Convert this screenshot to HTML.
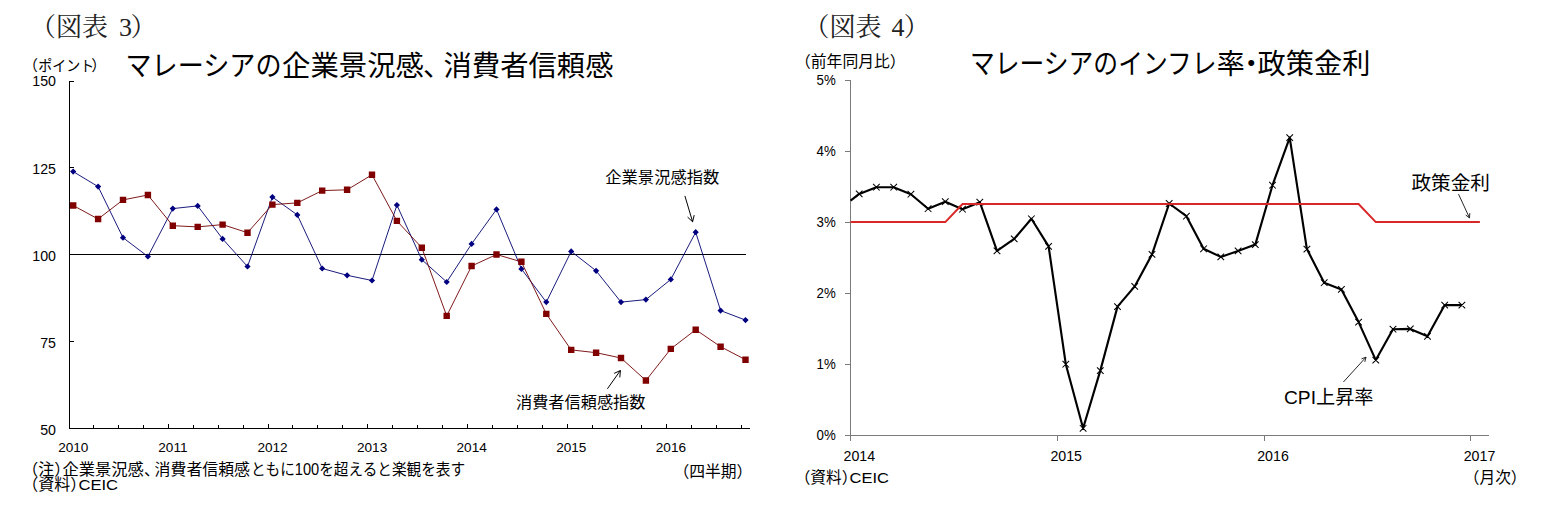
<!DOCTYPE html>
<html lang="ja"><head><meta charset="utf-8"><title>図表3・図表4</title>
<style>html,body{margin:0;padding:0;background:#fff}body{width:1558px;height:531px;overflow:hidden;font-family:"Liberation Sans",sans-serif}svg{display:block}text{font-family:"Liberation Sans","Noto Sans CJK JP",sans-serif;font-size:14.2px;fill:#000}</style>
</head><body>
<svg width="1558" height="531" viewBox="0 0 1558 531">
<title>図表3 マレーシアの企業景況感、消費者信頼感 / 図表4 マレーシアのインフレ率・政策金利</title>
<desc>（図表 3）マレーシアの企業景況感、消費者信頼感（ポイント）企業景況感指数 消費者信頼感指数（四半期）（注）企業景況感、消費者信頼感ともに100を超えると楽観を表す（資料）CEIC ／（図表 4）マレーシアのインフレ率・政策金利（前年同月比）政策金利 CPI上昇率（月次）（資料）CEIC</desc>
<rect width="1558" height="531" fill="#fff"/>
<g stroke="#000" stroke-width="1" fill="none" shape-rendering="crispEdges">
<path d="M69.5 81V429"/>
<path d="M69 428.5H749.5"/>
<path d="M69 254.5H746"/>
<path d="M69 81.5H74"/>
<path d="M69 167.5H74"/>
<path d="M69 254.5H74"/>
<path d="M69 341.5H74"/>
<path d="M93.5 428V425"/>
<path d="M118.5 428V425"/>
<path d="M143.5 428V425"/>
<path d="M168.5 428V424"/>
<path d="M193.5 428V425"/>
<path d="M218.5 428V425"/>
<path d="M243.5 428V425"/>
<path d="M268.5 428V424"/>
<path d="M292.5 428V425"/>
<path d="M317.5 428V425"/>
<path d="M342.5 428V425"/>
<path d="M367.5 428V424"/>
<path d="M392.5 428V425"/>
<path d="M417.5 428V425"/>
<path d="M442.5 428V425"/>
<path d="M467.5 428V424"/>
<path d="M492.5 428V425"/>
<path d="M517.5 428V425"/>
<path d="M542.5 428V425"/>
<path d="M567.5 428V424"/>
<path d="M592.5 428V425"/>
<path d="M617.5 428V425"/>
<path d="M641.5 428V425"/>
<path d="M666.5 428V424"/>
<path d="M691.5 428V425"/>
<path d="M716.5 428V425"/>
<path d="M741.5 428V425"/>
</g>
<path d="M73.2 171.6 L98.1 186.6 L123.0 237.7 L147.9 256.5 L172.8 208.6 L197.7 205.9 L222.6 238.9 L247.5 266.5 L272.4 197.1 L297.3 214.9 L322.2 268.5 L347.1 275.3 L372.0 280.5 L396.9 205.1 L421.8 259.7 L446.7 282.0 L471.6 243.9 L496.5 209.4 L521.4 268.9 L546.3 302.1 L571.2 251.4 L596.1 270.8 L621.0 302.1 L645.9 299.6 L670.8 279.4 L695.7 232.2 L720.6 310.6 L745.5 320.1" fill="none" stroke="#00006e" stroke-width="0.9"/>
<path d="M73.2 205.5 L98.1 219.0 L123.0 199.9 L147.9 195.0 L172.8 225.7 L197.7 226.9 L222.6 224.6 L247.5 232.7 L272.4 204.6 L297.3 202.9 L322.2 190.6 L347.1 189.8 L372.0 174.8 L396.9 220.9 L421.8 247.7 L446.7 315.9 L471.6 266.0 L496.5 254.5 L521.4 261.8 L546.3 313.9 L571.2 349.9 L596.1 352.7 L621.0 358.0 L645.9 380.5 L670.8 348.9 L695.7 329.7 L720.6 346.7 L745.5 359.7" fill="none" stroke="#700000" stroke-width="0.9"/>
<path d="M73.2 168.5l3.1 3.1l-3.1 3.1l-3.1 -3.1zM98.1 183.5l3.1 3.1l-3.1 3.1l-3.1 -3.1zM123.0 234.6l3.1 3.1l-3.1 3.1l-3.1 -3.1zM147.9 253.4l3.1 3.1l-3.1 3.1l-3.1 -3.1zM172.8 205.5l3.1 3.1l-3.1 3.1l-3.1 -3.1zM197.7 202.8l3.1 3.1l-3.1 3.1l-3.1 -3.1zM222.6 235.8l3.1 3.1l-3.1 3.1l-3.1 -3.1zM247.5 263.4l3.1 3.1l-3.1 3.1l-3.1 -3.1zM272.4 194.0l3.1 3.1l-3.1 3.1l-3.1 -3.1zM297.3 211.8l3.1 3.1l-3.1 3.1l-3.1 -3.1zM322.2 265.4l3.1 3.1l-3.1 3.1l-3.1 -3.1zM347.1 272.2l3.1 3.1l-3.1 3.1l-3.1 -3.1zM372.0 277.4l3.1 3.1l-3.1 3.1l-3.1 -3.1zM396.9 202.0l3.1 3.1l-3.1 3.1l-3.1 -3.1zM421.8 256.6l3.1 3.1l-3.1 3.1l-3.1 -3.1zM446.7 278.9l3.1 3.1l-3.1 3.1l-3.1 -3.1zM471.6 240.8l3.1 3.1l-3.1 3.1l-3.1 -3.1zM496.5 206.3l3.1 3.1l-3.1 3.1l-3.1 -3.1zM521.4 265.8l3.1 3.1l-3.1 3.1l-3.1 -3.1zM546.3 299.0l3.1 3.1l-3.1 3.1l-3.1 -3.1zM571.2 248.3l3.1 3.1l-3.1 3.1l-3.1 -3.1zM596.1 267.7l3.1 3.1l-3.1 3.1l-3.1 -3.1zM621.0 299.0l3.1 3.1l-3.1 3.1l-3.1 -3.1zM645.9 296.5l3.1 3.1l-3.1 3.1l-3.1 -3.1zM670.8 276.3l3.1 3.1l-3.1 3.1l-3.1 -3.1zM695.7 229.1l3.1 3.1l-3.1 3.1l-3.1 -3.1zM720.6 307.5l3.1 3.1l-3.1 3.1l-3.1 -3.1zM745.5 317.0l3.1 3.1l-3.1 3.1l-3.1 -3.1z" fill="#000080"/>
<path d="M70.0 202.3h6.4v6.4h-6.4zM94.9 215.8h6.4v6.4h-6.4zM119.8 196.7h6.4v6.4h-6.4zM144.7 191.8h6.4v6.4h-6.4zM169.6 222.5h6.4v6.4h-6.4zM194.5 223.7h6.4v6.4h-6.4zM219.4 221.4h6.4v6.4h-6.4zM244.3 229.5h6.4v6.4h-6.4zM269.2 201.4h6.4v6.4h-6.4zM294.1 199.7h6.4v6.4h-6.4zM319.0 187.4h6.4v6.4h-6.4zM343.9 186.6h6.4v6.4h-6.4zM368.8 171.6h6.4v6.4h-6.4zM393.7 217.7h6.4v6.4h-6.4zM418.6 244.5h6.4v6.4h-6.4zM443.5 312.7h6.4v6.4h-6.4zM468.4 262.8h6.4v6.4h-6.4zM493.3 251.3h6.4v6.4h-6.4zM518.2 258.6h6.4v6.4h-6.4zM543.1 310.7h6.4v6.4h-6.4zM568.0 346.7h6.4v6.4h-6.4zM592.9 349.5h6.4v6.4h-6.4zM617.8 354.8h6.4v6.4h-6.4zM642.7 377.3h6.4v6.4h-6.4zM667.6 345.7h6.4v6.4h-6.4zM692.5 326.5h6.4v6.4h-6.4zM717.4 343.5h6.4v6.4h-6.4zM742.3 356.5h6.4v6.4h-6.4z" fill="#800000"/>
<path d="M684.9 195.9L692.6 221.8M692.6 221.8L694.2 215.1M692.6 221.8L687.6 217.1" fill="none" stroke="#000" stroke-width="1"/>
<path d="M607.4 388.8L620.4 370.5M620.4 370.5L614.1 373.4M620.4 370.5L619.8 377.4" fill="none" stroke="#000" stroke-width="1"/>
<g stroke="#7a7a7a" stroke-width="1" fill="none" shape-rendering="crispEdges">
<path d="M850.5 80V436"/>
<path d="M850 435.5H1488.5"/>
<path d="M845 435.5H851"/>
<path d="M845 364.5H851"/>
<path d="M845 293.5H851"/>
<path d="M845 222.5H851"/>
<path d="M845 151.5H851"/>
<path d="M845 80.5H851"/>
<path d="M850.5 435V441"/>
<path d="M1057.5 435V441"/>
<path d="M1264.5 435V441"/>
<path d="M1470.5 435V441"/>
</g>
<path d="M850.6 200.7 L859.2 193.9 L876.4 187.2 L893.6 187.2 L910.9 194.2 L928.1 208.7 L945.3 201.7 L962.5 209.2 L979.8 202.2 L997.0 250.9 L1014.2 238.9 L1031.4 218.8 L1048.6 246.4 L1065.8 364.2 L1083.1 428.3 L1100.3 370.6 L1117.5 306.6 L1134.7 286.4 L1152.0 254.4 L1169.2 203.5 L1186.4 216.2 L1203.6 248.8 L1220.8 256.9 L1238.0 250.9 L1255.3 244.6 L1272.5 185.2 L1289.7 137.6 L1306.9 249.1 L1324.2 282.7 L1341.4 289.4 L1358.6 322.1 L1375.8 360.1 L1393.0 329.2 L1410.2 328.9 L1427.5 336.3 L1444.7 305.1 L1461.9 305.1" fill="none" stroke="#000" stroke-width="2.15" stroke-linejoin="round"/>
<path d="M855.9 190.6l6.6 6.6M855.9 197.2l6.6 -6.6M873.1 183.9l6.6 6.6M873.1 190.5l6.6 -6.6M890.4 183.9l6.6 6.6M890.4 190.5l6.6 -6.6M907.6 190.9l6.6 6.6M907.6 197.5l6.6 -6.6M924.8 205.4l6.6 6.6M924.8 212.0l6.6 -6.6M942.0 198.4l6.6 6.6M942.0 205.0l6.6 -6.6M959.2 205.9l6.6 6.6M959.2 212.5l6.6 -6.6M976.5 198.9l6.6 6.6M976.5 205.5l6.6 -6.6M993.7 247.6l6.6 6.6M993.7 254.2l6.6 -6.6M1010.9 235.6l6.6 6.6M1010.9 242.2l6.6 -6.6M1028.1 215.5l6.6 6.6M1028.1 222.1l6.6 -6.6M1045.3 243.1l6.6 6.6M1045.3 249.7l6.6 -6.6M1062.5 360.9l6.6 6.6M1062.5 367.5l6.6 -6.6M1079.8 425.0l6.6 6.6M1079.8 431.6l6.6 -6.6M1097.0 367.3l6.6 6.6M1097.0 373.9l6.6 -6.6M1114.2 303.3l6.6 6.6M1114.2 309.9l6.6 -6.6M1131.4 283.1l6.6 6.6M1131.4 289.7l6.6 -6.6M1148.7 251.1l6.6 6.6M1148.7 257.7l6.6 -6.6M1165.9 200.2l6.6 6.6M1165.9 206.8l6.6 -6.6M1183.1 212.9l6.6 6.6M1183.1 219.5l6.6 -6.6M1200.3 245.5l6.6 6.6M1200.3 252.1l6.6 -6.6M1217.5 253.6l6.6 6.6M1217.5 260.2l6.6 -6.6M1234.8 247.6l6.6 6.6M1234.8 254.2l6.6 -6.6M1252.0 241.3l6.6 6.6M1252.0 247.9l6.6 -6.6M1269.2 181.9l6.6 6.6M1269.2 188.5l6.6 -6.6M1286.4 134.3l6.6 6.6M1286.4 140.9l6.6 -6.6M1303.6 245.8l6.6 6.6M1303.6 252.4l6.6 -6.6M1320.9 279.4l6.6 6.6M1320.9 286.0l6.6 -6.6M1338.1 286.1l6.6 6.6M1338.1 292.7l6.6 -6.6M1355.3 318.8l6.6 6.6M1355.3 325.4l6.6 -6.6M1372.5 356.8l6.6 6.6M1372.5 363.4l6.6 -6.6M1389.7 325.9l6.6 6.6M1389.7 332.5l6.6 -6.6M1407.0 325.6l6.6 6.6M1407.0 332.2l6.6 -6.6M1424.2 333.0l6.6 6.6M1424.2 339.6l6.6 -6.6M1441.4 301.8l6.6 6.6M1441.4 308.4l6.6 -6.6M1458.6 301.8l6.6 6.6M1458.6 308.4l6.6 -6.6" fill="none" stroke="#000" stroke-width="1.05"/>
<path d="M850.6 222.1H945.3L962.5 204.1H1358.6L1375.8 222.1H1479.9" fill="none" stroke="#d92626" stroke-width="2"/>
<path d="M1458.5 194.1L1469.5 217.9M1469.5 217.9L1469.8 213.1M1469.5 217.9L1465.7 215.0" fill="none" stroke="#111" stroke-width="0.9"/>
<path d="M1343.4 382.0L1366.0 357.2M1366.0 357.2L1361.5 358.8M1366.0 357.2L1364.8 361.9" fill="none" stroke="#111" stroke-width="0.9"/>
<text y="35.9" style="font-family:'Liberation Serif','Noto Serif CJK SC','Noto Sans CJK JP',serif;font-size:26px;fill:#222"><tspan x="30">（図表</tspan><tspan x="119">3</tspan><tspan x="130.4">）</tspan></text>
<text x="23" y="71" style="font-size:15px">（</text>
<text x="38.3" y="71" style="font-size:15px" textLength="56" lengthAdjust="spacingAndGlyphs">ポイント</text>
<text x="91.3" y="71" style="font-size:15px">）</text>
<text x="125.5" y="76.3" style="font-size:28px" textLength="156" lengthAdjust="spacingAndGlyphs">マレーシアの</text>
<text x="282" y="76.3" style="font-size:28px" textLength="142" lengthAdjust="spacingAndGlyphs">企業景況感</text>
<text x="423" y="76.3" style="font-size:28px">、</text>
<text x="443.5" y="76.3" style="font-size:28px" textLength="170" lengthAdjust="spacingAndGlyphs">消費者信頼感</text>
<text x="56" y="86.3" text-anchor="end">150</text>
<text x="56" y="173.5" text-anchor="end">125</text>
<text x="56" y="260.5" text-anchor="end">100</text>
<text x="56" y="347.6" text-anchor="end">75</text>
<text x="56" y="434.6" text-anchor="end">50</text>
<text x="73.3" y="451.9" text-anchor="middle" style="font-size:13.6px">2010</text>
<text x="172.9" y="451.9" text-anchor="middle" style="font-size:13.6px">2011</text>
<text x="272.5" y="451.9" text-anchor="middle" style="font-size:13.6px">2012</text>
<text x="372.1" y="451.9" text-anchor="middle" style="font-size:13.6px">2013</text>
<text x="471.7" y="451.9" text-anchor="middle" style="font-size:13.6px">2014</text>
<text x="571.3" y="451.9" text-anchor="middle" style="font-size:13.6px">2015</text>
<text x="670.9" y="451.9" text-anchor="middle" style="font-size:13.6px">2016</text>
<text x="605.3" y="182.6" style="font-size:16.3px" textLength="114" lengthAdjust="spacingAndGlyphs">企業景況感指数</text>
<text x="516" y="407.9" style="font-size:16.1px" textLength="129.5" lengthAdjust="spacingAndGlyphs">消費者信頼感指数</text>
<text x="22.2" y="474.8" style="font-size:16px">（注）</text>
<text x="62.4" y="474.8" style="font-size:16px" textLength="81.5" lengthAdjust="spacingAndGlyphs">企業景況感</text>
<text x="144" y="474.8" style="font-size:16px">、</text>
<text x="154.6" y="474.8" style="font-size:16px" textLength="95.4" lengthAdjust="spacingAndGlyphs">消費者信頼感</text>
<text x="251" y="474.8" style="font-size:16px" textLength="214" lengthAdjust="spacingAndGlyphs">ともに100を超えると楽観を表す</text>
<text x="22.2" y="489.9" style="font-size:16px">（資料）</text>
<text x="78.5" y="489.9" style="font-size:15.3px" textLength="39.5" lengthAdjust="spacingAndGlyphs">CEIC</text>
<text x="673.4" y="476.6" style="font-size:15.8px">（四半期）</text>
<text y="35.9" style="font-family:'Liberation Serif','Noto Serif CJK SC','Noto Sans CJK JP',serif;font-size:26px;fill:#222"><tspan x="803.4">（図表</tspan><tspan x="891.5">4</tspan><tspan x="903.8">）</tspan></text>
<text x="795" y="66.8" style="font-size:15.8px">（前年同月比）</text>
<text x="970" y="74" style="font-size:28px" textLength="246.5" lengthAdjust="spacingAndGlyphs">マレーシアのインフレ</text>
<text x="1216.8" y="74" style="font-size:28px">率</text>
<text x="1237.2" y="74" style="font-size:28px">・</text>
<text x="1257.5" y="74" style="font-size:28px" textLength="113" lengthAdjust="spacingAndGlyphs">政策金利</text>
<text x="1411.5" y="189.6" style="font-size:19.6px" textLength="78.5" lengthAdjust="spacingAndGlyphs">政策金利</text>
<text x="1284" y="403.8" style="font-size:19px" textLength="89.5" lengthAdjust="spacingAndGlyphs">CPI上昇率</text>
<text x="794.7" y="482.8" style="font-size:15.7px">（資料）</text>
<text x="849.6" y="482.8" style="font-size:15.3px" textLength="39.3" lengthAdjust="spacingAndGlyphs">CEIC</text>
<text x="1463.8" y="483.4" style="font-size:15.7px">（月次）</text>
<text x="835.8" y="440.4" text-anchor="end" textLength="19.2" lengthAdjust="spacingAndGlyphs">0%</text>
<text x="835.8" y="369.3" text-anchor="end" textLength="19.2" lengthAdjust="spacingAndGlyphs">1%</text>
<text x="835.8" y="298.2" text-anchor="end" textLength="19.2" lengthAdjust="spacingAndGlyphs">2%</text>
<text x="835.8" y="227.1" text-anchor="end" textLength="19.2" lengthAdjust="spacingAndGlyphs">3%</text>
<text x="835.8" y="156.0" text-anchor="end" textLength="19.2" lengthAdjust="spacingAndGlyphs">4%</text>
<text x="835.8" y="84.9" text-anchor="end" textLength="19.2" lengthAdjust="spacingAndGlyphs">5%</text>
<text x="859.3" y="461.1" text-anchor="middle">2014</text>
<text x="1066.2" y="461.1" text-anchor="middle">2015</text>
<text x="1273.0" y="461.1" text-anchor="middle">2016</text>
<text x="1479.5" y="461.1" text-anchor="middle">2017</text>
</svg>
</body></html>
